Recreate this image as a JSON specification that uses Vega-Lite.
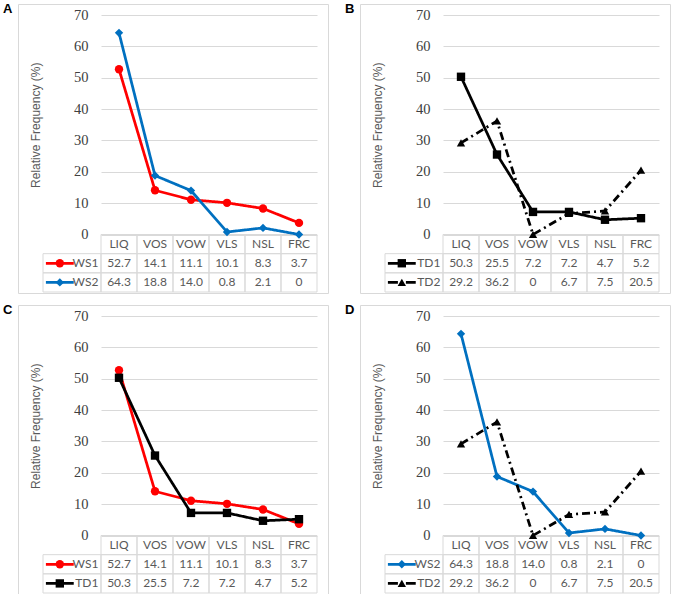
{
 "$schema": "https://vega.github.io/schema/vega-lite/v6.json",
 "background": "white",
 "padding": {"left": 2, "top": 2, "right": 0, "bottom": 0},
 "data": {"values": [
  {"series": "WS1", "cat": "LIQ", "value": 52.7},
  {"series": "WS1", "cat": "VOS", "value": 14.1},
  {"series": "WS1", "cat": "VOW", "value": 11.1},
  {"series": "WS1", "cat": "VLS", "value": 10.1},
  {"series": "WS1", "cat": "NSL", "value": 8.3},
  {"series": "WS1", "cat": "FRC", "value": 3.7},
  {"series": "WS2", "cat": "LIQ", "value": 64.3},
  {"series": "WS2", "cat": "VOS", "value": 18.8},
  {"series": "WS2", "cat": "VOW", "value": 14.0},
  {"series": "WS2", "cat": "VLS", "value": 0.8},
  {"series": "WS2", "cat": "NSL", "value": 2.1},
  {"series": "WS2", "cat": "FRC", "value": 0},
  {"series": "TD1", "cat": "LIQ", "value": 50.3},
  {"series": "TD1", "cat": "VOS", "value": 25.5},
  {"series": "TD1", "cat": "VOW", "value": 7.2},
  {"series": "TD1", "cat": "VLS", "value": 7.2},
  {"series": "TD1", "cat": "NSL", "value": 4.7},
  {"series": "TD1", "cat": "FRC", "value": 5.2},
  {"series": "TD2", "cat": "LIQ", "value": 29.2},
  {"series": "TD2", "cat": "VOS", "value": 36.2},
  {"series": "TD2", "cat": "VOW", "value": 0},
  {"series": "TD2", "cat": "VLS", "value": 6.7},
  {"series": "TD2", "cat": "NSL", "value": 7.5},
  {"series": "TD2", "cat": "FRC", "value": 20.5}
 ]},
 "columns": 2,
 "spacing": {"row": 9, "column": 15},
 "concat": [
  {
   "width": 310, "height": 289,
   "title": {"text": "A", "anchor": "start", "frame": "group", "dx": -15, "offset": -12, "baseline": "top", "fontSize": 13, "fontWeight": "bold", "font": "Liberation Sans", "color": "#000000"},
   "transform": [{"filter": {"field": "series", "oneOf": ["WS1", "WS2"]}}],
   "resolve": {"scale": {"x": "independent", "y": "independent", "strokeDash": "independent"}},
   "layer": [
    {"mark": {"type": "rect", "fill": "transparent", "stroke": "#d9d9d9", "strokeWidth": 1},
     "encoding": {
      "x": {"field": "cat", "type": "nominal", "scale": {"type": "band", "domain": ["LIQ","VOS","VOW","VLS","NSL","FRC"], "range": [83, 299], "paddingInner": 0, "paddingOuter": 0}, "axis": null},
      "y": {"field": "series", "type": "nominal", "scale": {"type": "band", "domain": ["hdr","WS1","WS2"], "range": [230.5, 288], "paddingInner": 0, "paddingOuter": 0}, "axis": null}}},
    {"transform": [{"filter": {"field": "series", "equal": "WS1"}}],
     "mark": {"type": "rect", "fill": "transparent", "stroke": "#d9d9d9", "strokeWidth": 1},
     "encoding": {
      "x": {"field": "cat", "type": "nominal", "scale": {"type": "band", "domain": ["LIQ","VOS","VOW","VLS","NSL","FRC"], "range": [83, 299], "paddingInner": 0, "paddingOuter": 0}, "axis": null},
      "y": {"datum": "hdr", "type": "nominal", "scale": {"type": "band", "domain": ["hdr","WS1","WS2"], "range": [230.5, 288], "paddingInner": 0, "paddingOuter": 0}, "axis": null}}},
    {"transform": [{"filter": {"field": "cat", "equal": "LIQ"}}],
     "mark": {"type": "rect", "fill": "transparent", "stroke": "#d9d9d9", "strokeWidth": 1},
     "encoding": {
      "x": {"datum": 0, "type": "quantitative", "scale": {"domain": [0, 1], "range": [25, 83], "nice": false, "zero": false}, "axis": null},
      "x2": {"datum": 1},
      "y": {"field": "series", "type": "nominal", "scale": {"type": "band", "domain": ["hdr","WS1","WS2"], "range": [230.5, 288], "paddingInner": 0, "paddingOuter": 0}, "axis": null}}},
    {"mark": {"type": "text", "font": "Lato", "fontSize": 12, "color": "#595959", "align": "center", "baseline": "middle"},
     "encoding": {
      "x": {"field": "cat", "type": "nominal", "scale": {"type": "point", "domain": ["LIQ","VOS","VOW","VLS","NSL","FRC"], "range": [83, 299], "padding": 0.5}, "axis": null},
      "y": {"field": "series", "type": "nominal", "scale": {"type": "point", "domain": ["hdr","WS1","WS2"], "range": [230.5, 288], "padding": 0.5}, "axis": null},
      "text": {"condition": {"test": "datum.value === 0", "value": "0"}, "field": "value", "type": "quantitative", "format": ".1f"}}},
    {"transform": [{"filter": {"field": "series", "equal": "WS1"}}],
     "mark": {"type": "text", "font": "Lato", "fontSize": 12, "color": "#595959", "align": "center", "baseline": "middle"},
     "encoding": {
      "x": {"field": "cat", "type": "nominal", "scale": {"type": "point", "domain": ["LIQ","VOS","VOW","VLS","NSL","FRC"], "range": [83, 299], "padding": 0.5}, "axis": null},
      "y": {"datum": "hdr", "type": "nominal", "scale": {"type": "point", "domain": ["hdr","WS1","WS2"], "range": [230.5, 288], "padding": 0.5}, "axis": null},
      "text": {"field": "cat", "type": "nominal"}}},
    {"transform": [{"filter": {"field": "cat", "equal": "LIQ"}}],
     "mark": {"type": "text", "font": "Lato", "fontSize": 12, "color": "#595959", "align": "right", "baseline": "middle"},
     "encoding": {
      "x": {"datum": 0.955, "type": "quantitative", "scale": {"domain": [0, 1], "range": [25, 83], "nice": false, "zero": false}, "axis": null},
      "y": {"field": "series", "type": "nominal", "scale": {"type": "point", "domain": ["hdr","WS1","WS2"], "range": [230.5, 288], "padding": 0.5}, "axis": null},
      "text": {"field": "series", "type": "nominal"}}},
    {"transform": [{"filter": {"field": "cat", "equal": "LIQ"}}],
     "mark": {"type": "rule", "strokeWidth": 2.75},
     "encoding": {
      "x": {"datum": 0.05, "type": "quantitative", "scale": {"domain": [0, 1], "range": [25, 83], "nice": false, "zero": false}, "axis": null},
      "x2": {"datum": 0.53},
      "y": {"field": "series", "type": "nominal", "scale": {"type": "point", "domain": ["hdr","WS1","WS2"], "range": [230.5, 288], "padding": 0.5}, "axis": null},
      "color": {"field": "series", "type": "nominal", "scale": {"domain": ["WS1","WS2","TD1","TD2"], "range": ["#ff0000","#0070c0","#000000","#000000"]}, "legend": null},
      "strokeDash": {"field": "series", "type": "nominal", "scale": {"domain": ["WS1","WS2","TD1","TD2"], "range": [[1,0],[1,0],[1,0],[10,8]]}, "legend": null}}},
    {"transform": [{"filter": {"field": "cat", "equal": "LIQ"}}],
     "mark": {"type": "point", "filled": true, "opacity": 1, "size": 70},
     "encoding": {
      "x": {"datum": 0.29, "type": "quantitative", "scale": {"domain": [0, 1], "range": [25, 83], "nice": false, "zero": false}, "axis": null},
      "y": {"field": "series", "type": "nominal", "scale": {"type": "point", "domain": ["hdr","WS1","WS2"], "range": [230.5, 288], "padding": 0.5}, "axis": null},
      "color": {"field": "series", "type": "nominal", "scale": {"domain": ["WS1","WS2","TD1","TD2"], "range": ["#ff0000","#0070c0","#000000","#000000"]}, "legend": null},
      "shape": {"field": "series", "type": "nominal", "scale": {"domain": ["WS1","WS2","TD1","TD2"], "range": ["circle","diamond","square","triangle-up"]}, "legend": null}}},
    {"mark": {"type": "line", "strokeWidth": 2.75},
     "encoding": {
      "x": {"field": "cat", "type": "nominal", "sort": ["LIQ","VOS","VOW","VLS","NSL","FRC"], "scale": {"type": "point", "domain": ["LIQ","VOS","VOW","VLS","NSL","FRC"], "range": [83, 299], "padding": 0.5}, "axis": null},
      "y": {"field": "value", "type": "quantitative", "scale": {"domain": [0, 70], "range": [230.5, 11], "nice": false, "zero": true},
            "axis": {"values": [0,10,20,30,40,50,60,70], "grid": true, "gridColor": "#d9d9d9", "gridWidth": 1, "domain": false, "ticks": false, "offset": -70, "labelPadding": 0, "labelFont": "Liberation Serif", "labelFontSize": 14.5, "labelColor": "#404040", "title": "Relative Frequency (%)", "titleFont": "Liberation Sans", "titleFontSize": 12, "titleFontWeight": "normal", "titleColor": "#595959", "titlePadding": 31}},
      "color": {"field": "series", "type": "nominal", "scale": {"domain": ["WS1","WS2","TD1","TD2"], "range": ["#ff0000","#0070c0","#000000","#000000"]}, "legend": null},
      "strokeDash": {"field": "series", "type": "nominal", "scale": {"domain": ["WS1","WS2","TD1","TD2"], "range": [[1,0],[1,0],[1,0],[8,4,2,4]]}, "legend": null}}},
    {"mark": {"type": "point", "filled": true, "opacity": 1, "size": 70},
     "encoding": {
      "x": {"field": "cat", "type": "nominal", "scale": {"type": "point", "domain": ["LIQ","VOS","VOW","VLS","NSL","FRC"], "range": [83, 299], "padding": 0.5}, "axis": null},
      "y": {"field": "value", "type": "quantitative", "scale": {"domain": [0, 70], "range": [230.5, 11], "nice": false, "zero": true}, "axis": null},
      "color": {"field": "series", "type": "nominal", "scale": {"domain": ["WS1","WS2","TD1","TD2"], "range": ["#ff0000","#0070c0","#000000","#000000"]}, "legend": null},
      "shape": {"field": "series", "type": "nominal", "scale": {"domain": ["WS1","WS2","TD1","TD2"], "range": ["circle","diamond","square","triangle-up"]}, "legend": null}}}
   ]
  },
  {
   "width": 310, "height": 289,
   "title": {"text": "B", "anchor": "start", "frame": "group", "dx": -15, "offset": -12, "baseline": "top", "fontSize": 13, "fontWeight": "bold", "font": "Liberation Sans", "color": "#000000"},
   "transform": [{"filter": {"field": "series", "oneOf": ["TD1", "TD2"]}}],
   "resolve": {"scale": {"x": "independent", "y": "independent", "strokeDash": "independent"}},
   "layer": [
    {"mark": {"type": "rect", "fill": "transparent", "stroke": "#d9d9d9", "strokeWidth": 1},
     "encoding": {
      "x": {"field": "cat", "type": "nominal", "scale": {"type": "band", "domain": ["LIQ","VOS","VOW","VLS","NSL","FRC"], "range": [83, 299], "paddingInner": 0, "paddingOuter": 0}, "axis": null},
      "y": {"field": "series", "type": "nominal", "scale": {"type": "band", "domain": ["hdr","TD1","TD2"], "range": [230.5, 288], "paddingInner": 0, "paddingOuter": 0}, "axis": null}}},
    {"transform": [{"filter": {"field": "series", "equal": "TD1"}}],
     "mark": {"type": "rect", "fill": "transparent", "stroke": "#d9d9d9", "strokeWidth": 1},
     "encoding": {
      "x": {"field": "cat", "type": "nominal", "scale": {"type": "band", "domain": ["LIQ","VOS","VOW","VLS","NSL","FRC"], "range": [83, 299], "paddingInner": 0, "paddingOuter": 0}, "axis": null},
      "y": {"datum": "hdr", "type": "nominal", "scale": {"type": "band", "domain": ["hdr","TD1","TD2"], "range": [230.5, 288], "paddingInner": 0, "paddingOuter": 0}, "axis": null}}},
    {"transform": [{"filter": {"field": "cat", "equal": "LIQ"}}],
     "mark": {"type": "rect", "fill": "transparent", "stroke": "#d9d9d9", "strokeWidth": 1},
     "encoding": {
      "x": {"datum": 0, "type": "quantitative", "scale": {"domain": [0, 1], "range": [25, 83], "nice": false, "zero": false}, "axis": null},
      "x2": {"datum": 1},
      "y": {"field": "series", "type": "nominal", "scale": {"type": "band", "domain": ["hdr","TD1","TD2"], "range": [230.5, 288], "paddingInner": 0, "paddingOuter": 0}, "axis": null}}},
    {"mark": {"type": "text", "font": "Lato", "fontSize": 12, "color": "#595959", "align": "center", "baseline": "middle"},
     "encoding": {
      "x": {"field": "cat", "type": "nominal", "scale": {"type": "point", "domain": ["LIQ","VOS","VOW","VLS","NSL","FRC"], "range": [83, 299], "padding": 0.5}, "axis": null},
      "y": {"field": "series", "type": "nominal", "scale": {"type": "point", "domain": ["hdr","TD1","TD2"], "range": [230.5, 288], "padding": 0.5}, "axis": null},
      "text": {"condition": {"test": "datum.value === 0", "value": "0"}, "field": "value", "type": "quantitative", "format": ".1f"}}},
    {"transform": [{"filter": {"field": "series", "equal": "TD1"}}],
     "mark": {"type": "text", "font": "Lato", "fontSize": 12, "color": "#595959", "align": "center", "baseline": "middle"},
     "encoding": {
      "x": {"field": "cat", "type": "nominal", "scale": {"type": "point", "domain": ["LIQ","VOS","VOW","VLS","NSL","FRC"], "range": [83, 299], "padding": 0.5}, "axis": null},
      "y": {"datum": "hdr", "type": "nominal", "scale": {"type": "point", "domain": ["hdr","TD1","TD2"], "range": [230.5, 288], "padding": 0.5}, "axis": null},
      "text": {"field": "cat", "type": "nominal"}}},
    {"transform": [{"filter": {"field": "cat", "equal": "LIQ"}}],
     "mark": {"type": "text", "font": "Lato", "fontSize": 12, "color": "#595959", "align": "right", "baseline": "middle"},
     "encoding": {
      "x": {"datum": 0.955, "type": "quantitative", "scale": {"domain": [0, 1], "range": [25, 83], "nice": false, "zero": false}, "axis": null},
      "y": {"field": "series", "type": "nominal", "scale": {"type": "point", "domain": ["hdr","TD1","TD2"], "range": [230.5, 288], "padding": 0.5}, "axis": null},
      "text": {"field": "series", "type": "nominal"}}},
    {"transform": [{"filter": {"field": "cat", "equal": "LIQ"}}],
     "mark": {"type": "rule", "strokeWidth": 2.75},
     "encoding": {
      "x": {"datum": 0.05, "type": "quantitative", "scale": {"domain": [0, 1], "range": [25, 83], "nice": false, "zero": false}, "axis": null},
      "x2": {"datum": 0.53},
      "y": {"field": "series", "type": "nominal", "scale": {"type": "point", "domain": ["hdr","TD1","TD2"], "range": [230.5, 288], "padding": 0.5}, "axis": null},
      "color": {"field": "series", "type": "nominal", "scale": {"domain": ["WS1","WS2","TD1","TD2"], "range": ["#ff0000","#0070c0","#000000","#000000"]}, "legend": null},
      "strokeDash": {"field": "series", "type": "nominal", "scale": {"domain": ["WS1","WS2","TD1","TD2"], "range": [[1,0],[1,0],[1,0],[10,8]]}, "legend": null}}},
    {"transform": [{"filter": {"field": "cat", "equal": "LIQ"}}],
     "mark": {"type": "point", "filled": true, "opacity": 1, "size": 70},
     "encoding": {
      "x": {"datum": 0.29, "type": "quantitative", "scale": {"domain": [0, 1], "range": [25, 83], "nice": false, "zero": false}, "axis": null},
      "y": {"field": "series", "type": "nominal", "scale": {"type": "point", "domain": ["hdr","TD1","TD2"], "range": [230.5, 288], "padding": 0.5}, "axis": null},
      "color": {"field": "series", "type": "nominal", "scale": {"domain": ["WS1","WS2","TD1","TD2"], "range": ["#ff0000","#0070c0","#000000","#000000"]}, "legend": null},
      "shape": {"field": "series", "type": "nominal", "scale": {"domain": ["WS1","WS2","TD1","TD2"], "range": ["circle","diamond","square","triangle-up"]}, "legend": null}}},
    {"mark": {"type": "line", "strokeWidth": 2.75},
     "encoding": {
      "x": {"field": "cat", "type": "nominal", "sort": ["LIQ","VOS","VOW","VLS","NSL","FRC"], "scale": {"type": "point", "domain": ["LIQ","VOS","VOW","VLS","NSL","FRC"], "range": [83, 299], "padding": 0.5}, "axis": null},
      "y": {"field": "value", "type": "quantitative", "scale": {"domain": [0, 70], "range": [230.5, 11], "nice": false, "zero": true},
            "axis": {"values": [0,10,20,30,40,50,60,70], "grid": true, "gridColor": "#d9d9d9", "gridWidth": 1, "domain": false, "ticks": false, "offset": -70, "labelPadding": 0, "labelFont": "Liberation Serif", "labelFontSize": 14.5, "labelColor": "#404040", "title": "Relative Frequency (%)", "titleFont": "Liberation Sans", "titleFontSize": 12, "titleFontWeight": "normal", "titleColor": "#595959", "titlePadding": 31}},
      "color": {"field": "series", "type": "nominal", "scale": {"domain": ["WS1","WS2","TD1","TD2"], "range": ["#ff0000","#0070c0","#000000","#000000"]}, "legend": null},
      "strokeDash": {"field": "series", "type": "nominal", "scale": {"domain": ["WS1","WS2","TD1","TD2"], "range": [[1,0],[1,0],[1,0],[8,4,2,4]]}, "legend": null}}},
    {"mark": {"type": "point", "filled": true, "opacity": 1, "size": 70},
     "encoding": {
      "x": {"field": "cat", "type": "nominal", "scale": {"type": "point", "domain": ["LIQ","VOS","VOW","VLS","NSL","FRC"], "range": [83, 299], "padding": 0.5}, "axis": null},
      "y": {"field": "value", "type": "quantitative", "scale": {"domain": [0, 70], "range": [230.5, 11], "nice": false, "zero": true}, "axis": null},
      "color": {"field": "series", "type": "nominal", "scale": {"domain": ["WS1","WS2","TD1","TD2"], "range": ["#ff0000","#0070c0","#000000","#000000"]}, "legend": null},
      "shape": {"field": "series", "type": "nominal", "scale": {"domain": ["WS1","WS2","TD1","TD2"], "range": ["circle","diamond","square","triangle-up"]}, "legend": null}}}
   ]
  },
  {
   "width": 310, "height": 289,
   "title": {"text": "C", "anchor": "start", "frame": "group", "dx": -15, "offset": -12, "baseline": "top", "fontSize": 13, "fontWeight": "bold", "font": "Liberation Sans", "color": "#000000"},
   "transform": [{"filter": {"field": "series", "oneOf": ["WS1", "TD1"]}}],
   "resolve": {"scale": {"x": "independent", "y": "independent", "strokeDash": "independent"}},
   "layer": [
    {"mark": {"type": "rect", "fill": "transparent", "stroke": "#d9d9d9", "strokeWidth": 1},
     "encoding": {
      "x": {"field": "cat", "type": "nominal", "scale": {"type": "band", "domain": ["LIQ","VOS","VOW","VLS","NSL","FRC"], "range": [83, 299], "paddingInner": 0, "paddingOuter": 0}, "axis": null},
      "y": {"field": "series", "type": "nominal", "scale": {"type": "band", "domain": ["hdr","WS1","TD1"], "range": [230.5, 288], "paddingInner": 0, "paddingOuter": 0}, "axis": null}}},
    {"transform": [{"filter": {"field": "series", "equal": "WS1"}}],
     "mark": {"type": "rect", "fill": "transparent", "stroke": "#d9d9d9", "strokeWidth": 1},
     "encoding": {
      "x": {"field": "cat", "type": "nominal", "scale": {"type": "band", "domain": ["LIQ","VOS","VOW","VLS","NSL","FRC"], "range": [83, 299], "paddingInner": 0, "paddingOuter": 0}, "axis": null},
      "y": {"datum": "hdr", "type": "nominal", "scale": {"type": "band", "domain": ["hdr","WS1","TD1"], "range": [230.5, 288], "paddingInner": 0, "paddingOuter": 0}, "axis": null}}},
    {"transform": [{"filter": {"field": "cat", "equal": "LIQ"}}],
     "mark": {"type": "rect", "fill": "transparent", "stroke": "#d9d9d9", "strokeWidth": 1},
     "encoding": {
      "x": {"datum": 0, "type": "quantitative", "scale": {"domain": [0, 1], "range": [25, 83], "nice": false, "zero": false}, "axis": null},
      "x2": {"datum": 1},
      "y": {"field": "series", "type": "nominal", "scale": {"type": "band", "domain": ["hdr","WS1","TD1"], "range": [230.5, 288], "paddingInner": 0, "paddingOuter": 0}, "axis": null}}},
    {"mark": {"type": "text", "font": "Lato", "fontSize": 12, "color": "#595959", "align": "center", "baseline": "middle"},
     "encoding": {
      "x": {"field": "cat", "type": "nominal", "scale": {"type": "point", "domain": ["LIQ","VOS","VOW","VLS","NSL","FRC"], "range": [83, 299], "padding": 0.5}, "axis": null},
      "y": {"field": "series", "type": "nominal", "scale": {"type": "point", "domain": ["hdr","WS1","TD1"], "range": [230.5, 288], "padding": 0.5}, "axis": null},
      "text": {"condition": {"test": "datum.value === 0", "value": "0"}, "field": "value", "type": "quantitative", "format": ".1f"}}},
    {"transform": [{"filter": {"field": "series", "equal": "WS1"}}],
     "mark": {"type": "text", "font": "Lato", "fontSize": 12, "color": "#595959", "align": "center", "baseline": "middle"},
     "encoding": {
      "x": {"field": "cat", "type": "nominal", "scale": {"type": "point", "domain": ["LIQ","VOS","VOW","VLS","NSL","FRC"], "range": [83, 299], "padding": 0.5}, "axis": null},
      "y": {"datum": "hdr", "type": "nominal", "scale": {"type": "point", "domain": ["hdr","WS1","TD1"], "range": [230.5, 288], "padding": 0.5}, "axis": null},
      "text": {"field": "cat", "type": "nominal"}}},
    {"transform": [{"filter": {"field": "cat", "equal": "LIQ"}}],
     "mark": {"type": "text", "font": "Lato", "fontSize": 12, "color": "#595959", "align": "right", "baseline": "middle"},
     "encoding": {
      "x": {"datum": 0.955, "type": "quantitative", "scale": {"domain": [0, 1], "range": [25, 83], "nice": false, "zero": false}, "axis": null},
      "y": {"field": "series", "type": "nominal", "scale": {"type": "point", "domain": ["hdr","WS1","TD1"], "range": [230.5, 288], "padding": 0.5}, "axis": null},
      "text": {"field": "series", "type": "nominal"}}},
    {"transform": [{"filter": {"field": "cat", "equal": "LIQ"}}],
     "mark": {"type": "rule", "strokeWidth": 2.75},
     "encoding": {
      "x": {"datum": 0.05, "type": "quantitative", "scale": {"domain": [0, 1], "range": [25, 83], "nice": false, "zero": false}, "axis": null},
      "x2": {"datum": 0.53},
      "y": {"field": "series", "type": "nominal", "scale": {"type": "point", "domain": ["hdr","WS1","TD1"], "range": [230.5, 288], "padding": 0.5}, "axis": null},
      "color": {"field": "series", "type": "nominal", "scale": {"domain": ["WS1","WS2","TD1","TD2"], "range": ["#ff0000","#0070c0","#000000","#000000"]}, "legend": null},
      "strokeDash": {"field": "series", "type": "nominal", "scale": {"domain": ["WS1","WS2","TD1","TD2"], "range": [[1,0],[1,0],[1,0],[10,8]]}, "legend": null}}},
    {"transform": [{"filter": {"field": "cat", "equal": "LIQ"}}],
     "mark": {"type": "point", "filled": true, "opacity": 1, "size": 70},
     "encoding": {
      "x": {"datum": 0.29, "type": "quantitative", "scale": {"domain": [0, 1], "range": [25, 83], "nice": false, "zero": false}, "axis": null},
      "y": {"field": "series", "type": "nominal", "scale": {"type": "point", "domain": ["hdr","WS1","TD1"], "range": [230.5, 288], "padding": 0.5}, "axis": null},
      "color": {"field": "series", "type": "nominal", "scale": {"domain": ["WS1","WS2","TD1","TD2"], "range": ["#ff0000","#0070c0","#000000","#000000"]}, "legend": null},
      "shape": {"field": "series", "type": "nominal", "scale": {"domain": ["WS1","WS2","TD1","TD2"], "range": ["circle","diamond","square","triangle-up"]}, "legend": null}}},
    {"mark": {"type": "line", "strokeWidth": 2.75},
     "encoding": {
      "x": {"field": "cat", "type": "nominal", "sort": ["LIQ","VOS","VOW","VLS","NSL","FRC"], "scale": {"type": "point", "domain": ["LIQ","VOS","VOW","VLS","NSL","FRC"], "range": [83, 299], "padding": 0.5}, "axis": null},
      "y": {"field": "value", "type": "quantitative", "scale": {"domain": [0, 70], "range": [230.5, 11], "nice": false, "zero": true},
            "axis": {"values": [0,10,20,30,40,50,60,70], "grid": true, "gridColor": "#d9d9d9", "gridWidth": 1, "domain": false, "ticks": false, "offset": -70, "labelPadding": 0, "labelFont": "Liberation Serif", "labelFontSize": 14.5, "labelColor": "#404040", "title": "Relative Frequency (%)", "titleFont": "Liberation Sans", "titleFontSize": 12, "titleFontWeight": "normal", "titleColor": "#595959", "titlePadding": 31}},
      "color": {"field": "series", "type": "nominal", "scale": {"domain": ["WS1","WS2","TD1","TD2"], "range": ["#ff0000","#0070c0","#000000","#000000"]}, "legend": null},
      "strokeDash": {"field": "series", "type": "nominal", "scale": {"domain": ["WS1","WS2","TD1","TD2"], "range": [[1,0],[1,0],[1,0],[8,4,2,4]]}, "legend": null}}},
    {"mark": {"type": "point", "filled": true, "opacity": 1, "size": 70},
     "encoding": {
      "x": {"field": "cat", "type": "nominal", "scale": {"type": "point", "domain": ["LIQ","VOS","VOW","VLS","NSL","FRC"], "range": [83, 299], "padding": 0.5}, "axis": null},
      "y": {"field": "value", "type": "quantitative", "scale": {"domain": [0, 70], "range": [230.5, 11], "nice": false, "zero": true}, "axis": null},
      "color": {"field": "series", "type": "nominal", "scale": {"domain": ["WS1","WS2","TD1","TD2"], "range": ["#ff0000","#0070c0","#000000","#000000"]}, "legend": null},
      "shape": {"field": "series", "type": "nominal", "scale": {"domain": ["WS1","WS2","TD1","TD2"], "range": ["circle","diamond","square","triangle-up"]}, "legend": null}}}
   ]
  },
  {
   "width": 310, "height": 289,
   "title": {"text": "D", "anchor": "start", "frame": "group", "dx": -15, "offset": -12, "baseline": "top", "fontSize": 13, "fontWeight": "bold", "font": "Liberation Sans", "color": "#000000"},
   "transform": [{"filter": {"field": "series", "oneOf": ["WS2", "TD2"]}}],
   "resolve": {"scale": {"x": "independent", "y": "independent", "strokeDash": "independent"}},
   "layer": [
    {"mark": {"type": "rect", "fill": "transparent", "stroke": "#d9d9d9", "strokeWidth": 1},
     "encoding": {
      "x": {"field": "cat", "type": "nominal", "scale": {"type": "band", "domain": ["LIQ","VOS","VOW","VLS","NSL","FRC"], "range": [83, 299], "paddingInner": 0, "paddingOuter": 0}, "axis": null},
      "y": {"field": "series", "type": "nominal", "scale": {"type": "band", "domain": ["hdr","WS2","TD2"], "range": [230.5, 288], "paddingInner": 0, "paddingOuter": 0}, "axis": null}}},
    {"transform": [{"filter": {"field": "series", "equal": "WS2"}}],
     "mark": {"type": "rect", "fill": "transparent", "stroke": "#d9d9d9", "strokeWidth": 1},
     "encoding": {
      "x": {"field": "cat", "type": "nominal", "scale": {"type": "band", "domain": ["LIQ","VOS","VOW","VLS","NSL","FRC"], "range": [83, 299], "paddingInner": 0, "paddingOuter": 0}, "axis": null},
      "y": {"datum": "hdr", "type": "nominal", "scale": {"type": "band", "domain": ["hdr","WS2","TD2"], "range": [230.5, 288], "paddingInner": 0, "paddingOuter": 0}, "axis": null}}},
    {"transform": [{"filter": {"field": "cat", "equal": "LIQ"}}],
     "mark": {"type": "rect", "fill": "transparent", "stroke": "#d9d9d9", "strokeWidth": 1},
     "encoding": {
      "x": {"datum": 0, "type": "quantitative", "scale": {"domain": [0, 1], "range": [25, 83], "nice": false, "zero": false}, "axis": null},
      "x2": {"datum": 1},
      "y": {"field": "series", "type": "nominal", "scale": {"type": "band", "domain": ["hdr","WS2","TD2"], "range": [230.5, 288], "paddingInner": 0, "paddingOuter": 0}, "axis": null}}},
    {"mark": {"type": "text", "font": "Lato", "fontSize": 12, "color": "#595959", "align": "center", "baseline": "middle"},
     "encoding": {
      "x": {"field": "cat", "type": "nominal", "scale": {"type": "point", "domain": ["LIQ","VOS","VOW","VLS","NSL","FRC"], "range": [83, 299], "padding": 0.5}, "axis": null},
      "y": {"field": "series", "type": "nominal", "scale": {"type": "point", "domain": ["hdr","WS2","TD2"], "range": [230.5, 288], "padding": 0.5}, "axis": null},
      "text": {"condition": {"test": "datum.value === 0", "value": "0"}, "field": "value", "type": "quantitative", "format": ".1f"}}},
    {"transform": [{"filter": {"field": "series", "equal": "WS2"}}],
     "mark": {"type": "text", "font": "Lato", "fontSize": 12, "color": "#595959", "align": "center", "baseline": "middle"},
     "encoding": {
      "x": {"field": "cat", "type": "nominal", "scale": {"type": "point", "domain": ["LIQ","VOS","VOW","VLS","NSL","FRC"], "range": [83, 299], "padding": 0.5}, "axis": null},
      "y": {"datum": "hdr", "type": "nominal", "scale": {"type": "point", "domain": ["hdr","WS2","TD2"], "range": [230.5, 288], "padding": 0.5}, "axis": null},
      "text": {"field": "cat", "type": "nominal"}}},
    {"transform": [{"filter": {"field": "cat", "equal": "LIQ"}}],
     "mark": {"type": "text", "font": "Lato", "fontSize": 12, "color": "#595959", "align": "right", "baseline": "middle"},
     "encoding": {
      "x": {"datum": 0.955, "type": "quantitative", "scale": {"domain": [0, 1], "range": [25, 83], "nice": false, "zero": false}, "axis": null},
      "y": {"field": "series", "type": "nominal", "scale": {"type": "point", "domain": ["hdr","WS2","TD2"], "range": [230.5, 288], "padding": 0.5}, "axis": null},
      "text": {"field": "series", "type": "nominal"}}},
    {"transform": [{"filter": {"field": "cat", "equal": "LIQ"}}],
     "mark": {"type": "rule", "strokeWidth": 2.75},
     "encoding": {
      "x": {"datum": 0.05, "type": "quantitative", "scale": {"domain": [0, 1], "range": [25, 83], "nice": false, "zero": false}, "axis": null},
      "x2": {"datum": 0.53},
      "y": {"field": "series", "type": "nominal", "scale": {"type": "point", "domain": ["hdr","WS2","TD2"], "range": [230.5, 288], "padding": 0.5}, "axis": null},
      "color": {"field": "series", "type": "nominal", "scale": {"domain": ["WS1","WS2","TD1","TD2"], "range": ["#ff0000","#0070c0","#000000","#000000"]}, "legend": null},
      "strokeDash": {"field": "series", "type": "nominal", "scale": {"domain": ["WS1","WS2","TD1","TD2"], "range": [[1,0],[1,0],[1,0],[10,8]]}, "legend": null}}},
    {"transform": [{"filter": {"field": "cat", "equal": "LIQ"}}],
     "mark": {"type": "point", "filled": true, "opacity": 1, "size": 70},
     "encoding": {
      "x": {"datum": 0.29, "type": "quantitative", "scale": {"domain": [0, 1], "range": [25, 83], "nice": false, "zero": false}, "axis": null},
      "y": {"field": "series", "type": "nominal", "scale": {"type": "point", "domain": ["hdr","WS2","TD2"], "range": [230.5, 288], "padding": 0.5}, "axis": null},
      "color": {"field": "series", "type": "nominal", "scale": {"domain": ["WS1","WS2","TD1","TD2"], "range": ["#ff0000","#0070c0","#000000","#000000"]}, "legend": null},
      "shape": {"field": "series", "type": "nominal", "scale": {"domain": ["WS1","WS2","TD1","TD2"], "range": ["circle","diamond","square","triangle-up"]}, "legend": null}}},
    {"mark": {"type": "line", "strokeWidth": 2.75},
     "encoding": {
      "x": {"field": "cat", "type": "nominal", "sort": ["LIQ","VOS","VOW","VLS","NSL","FRC"], "scale": {"type": "point", "domain": ["LIQ","VOS","VOW","VLS","NSL","FRC"], "range": [83, 299], "padding": 0.5}, "axis": null},
      "y": {"field": "value", "type": "quantitative", "scale": {"domain": [0, 70], "range": [230.5, 11], "nice": false, "zero": true},
            "axis": {"values": [0,10,20,30,40,50,60,70], "grid": true, "gridColor": "#d9d9d9", "gridWidth": 1, "domain": false, "ticks": false, "offset": -70, "labelPadding": 0, "labelFont": "Liberation Serif", "labelFontSize": 14.5, "labelColor": "#404040", "title": "Relative Frequency (%)", "titleFont": "Liberation Sans", "titleFontSize": 12, "titleFontWeight": "normal", "titleColor": "#595959", "titlePadding": 31}},
      "color": {"field": "series", "type": "nominal", "scale": {"domain": ["WS1","WS2","TD1","TD2"], "range": ["#ff0000","#0070c0","#000000","#000000"]}, "legend": null},
      "strokeDash": {"field": "series", "type": "nominal", "scale": {"domain": ["WS1","WS2","TD1","TD2"], "range": [[1,0],[1,0],[1,0],[8,4,2,4]]}, "legend": null}}},
    {"mark": {"type": "point", "filled": true, "opacity": 1, "size": 70},
     "encoding": {
      "x": {"field": "cat", "type": "nominal", "scale": {"type": "point", "domain": ["LIQ","VOS","VOW","VLS","NSL","FRC"], "range": [83, 299], "padding": 0.5}, "axis": null},
      "y": {"field": "value", "type": "quantitative", "scale": {"domain": [0, 70], "range": [230.5, 11], "nice": false, "zero": true}, "axis": null},
      "color": {"field": "series", "type": "nominal", "scale": {"domain": ["WS1","WS2","TD1","TD2"], "range": ["#ff0000","#0070c0","#000000","#000000"]}, "legend": null},
      "shape": {"field": "series", "type": "nominal", "scale": {"domain": ["WS1","WS2","TD1","TD2"], "range": ["circle","diamond","square","triangle-up"]}, "legend": null}}}
   ]
  }
 ],
 "config": {"view": {"stroke": "#d9d9d9", "strokeWidth": 1}}
}
